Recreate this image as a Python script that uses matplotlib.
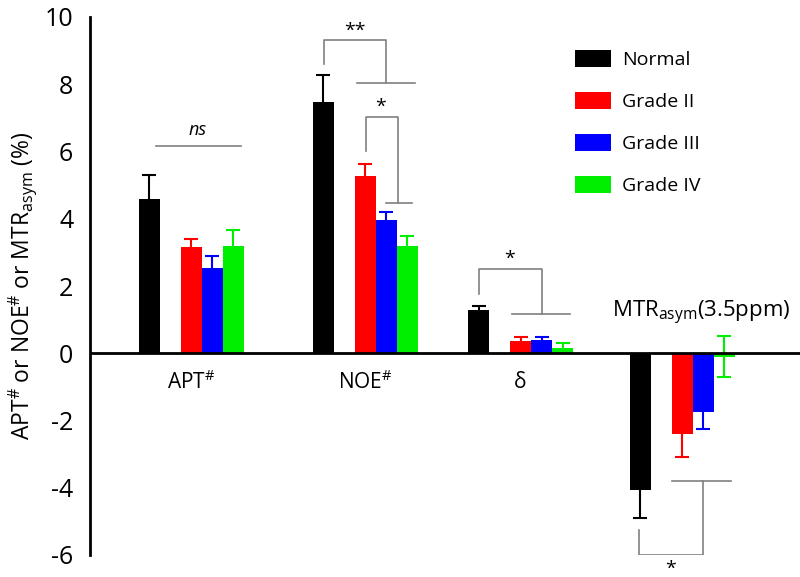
import matplotlib
matplotlib.use('Agg')
import matplotlib.pyplot as plt
import numpy as np

plt.rcParams['font.family'] = ['Open Sans', 'DejaVu Sans']
plt.rcParams['mathtext.fontset'] = 'custom'
plt.rcParams['mathtext.rm'] = 'Open Sans'
plt.rcParams['mathtext.it'] = 'Open Sans:italic'
plt.rcParams['axes.unicode_minus'] = False

# data
groups = ['APT$^{\\#}$', 'NOE$^{\\#}$', 'δ', 'MTR$_{\\mathrm{asym}}$(3.5ppm)']
series = ['Normal', 'Grade II', 'Grade III', 'Grade IV']
normal = [4.58, 7.47, 1.28, -4.08]
grade2 = [3.15, 5.28, 0.37, -2.41]
grade3 = [2.53, 3.96, 0.40, -1.75]
grade4 = [3.18, 3.20, 0.15, -0.10]
err_normal = [0.72, 0.80, 0.12, 0.82]
err_grade2 = [0.24, 0.34, 0.11, 0.69]
err_grade3 = [0.36, 0.24, 0.07, 0.49]
err_grade4 = [0.48, 0.28, 0.14, 0.60]

colors = ['#000000', '#ff0000', '#0000ff', '#00ee00']
vals = [normal, grade2, grade3, grade4]
errs = [err_normal, err_grade2, err_grade3, err_grade4]

X0 = 90.0   # spine position, px
BW = 21.0   # bar width, px

def px(p):
    return (p - X0) / BW

# layout (bar width = 1 unit)
gx = np.array([px(149), px(323), px(478.5), px(640)])
offs = [0, 2, 3, 4]

fig = plt.figure(figsize=(8, 5.77), dpi=100)
ax = fig.add_axes([X0 / 800, 1 - 555 / 577., 1 - X0 / 800, 538 / 577.])

for i in range(4):
    x = gx + offs[i]
    ax.bar(x, vals[i], width=1.0, color=colors[i], zorder=3, label=series[i])
    ax.errorbar(x, vals[i], yerr=errs[i], fmt='none', ecolor=colors[i],
                elinewidth=1.5, capsize=5, capthick=1.5, zorder=2)

ax.axhline(0, color='black', lw=2, zorder=4)
ax.set_xlim(0, (800 - X0) / BW)
ax.set_ylim(-6, 10)
ax.set_yticks(np.arange(-6, 11, 2))
ax.tick_params(axis='y', length=0, labelsize=18, pad=12)
ax.set_xticks([])
for s in ['top', 'right', 'bottom']:
    ax.spines[s].set_visible(False)
ax.spines['left'].set_linewidth(2)
ax.set_ylabel('APT$^{\\#}$ or NOE$^{\\#}$ or MTR$_{\\mathrm{asym}}$ (%)', fontsize=16.5, labelpad=4)

# group labels
for k in range(3):
    ax.text(gx[k] + 2, -0.86, groups[k], ha='center', va='center', fontsize=15)
ax.text(px(701), 1.19, groups[3], ha='center', va='center', fontsize=16)

# significance brackets
gc = '#808080'

def bracket(x1, y1, ytop, x2, y2, hx1, hx2):
    ax.plot([px(x1), px(x1), px(x2), px(x2)], [y1, ytop, ytop, y2], color=gc, lw=1.2, zorder=5)
    ax.plot([px(hx1), px(hx2)], [y2, y2], color=gc, lw=1.2, zorder=5)

ax.plot([px(156), px(241)], [6.15, 6.15], color=gc, lw=1.2)
ax.text(px(198), 6.65, 'ns', ha='center', va='center', fontsize=13, style='italic')

bracket(324, 8.6, 9.32, 386, 8.03, 357, 415)
ax.text(px(355), 9.6, '**', ha='center', va='center', fontsize=14)
bracket(366, 6.02, 7.03, 398, 4.48, 386, 412)
ax.text(px(381), 7.33, '*', ha='center', va='center', fontsize=14)
bracket(479, 1.77, 2.5, 542, 1.16, 512, 570)
ax.text(px(510), 2.8, '*', ha='center', va='center', fontsize=14)
bracket(639, -5.27, -6.0, 703, -3.8, 672, 731)
ax.text(px(671), -6.4, '*', ha='center', va='center', fontsize=14)

ax.legend(loc='upper left', bbox_to_anchor=(575 / 800., 1 - 50 / 577.),
          bbox_transform=fig.transFigure, borderaxespad=0, borderpad=0,
          frameon=False, fontsize=14, handlelength=1.85, handleheight=0.95,
          labelspacing=1.18, handletextpad=0.55)

fig.savefig('out.png', dpi=100)
